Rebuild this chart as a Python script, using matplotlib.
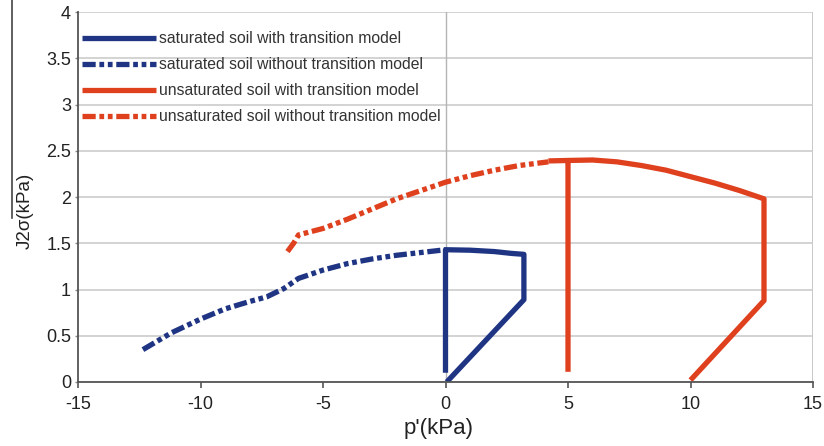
import numpy as np
import matplotlib
matplotlib.use("Agg")
import matplotlib.pyplot as plt
from matplotlib.lines import Line2D

plt.rcParams['font.family'] = ['Liberation Sans', 'DejaVu Sans']

# saturated soil with transition model (solid blue)
sat_tr_x = [0.0, 0.0, 1.0, 2.0, 2.7, 3.2, 3.2, 0.05]
sat_tr_y = [0.10, 1.43, 1.425, 1.41, 1.39, 1.38, 0.89, 0.0]

# saturated soil without transition model (dash-dot blue)
sat_nt_x = [-12.35, -11.2, -10.0, -9.0, -8.0, -7.3, -6.6, -6.0, -5.0, -4.0, -3.0, -2.0, -1.0, 0.0]
sat_nt_y = [0.35, 0.53, 0.68, 0.79, 0.87, 0.92, 1.01, 1.12, 1.21, 1.28, 1.33, 1.37, 1.40, 1.43]

# unsaturated soil with transition model (solid red); NaN separates the vertical branch
unsat_tr_x = [5.0, 5.0, np.nan, 4.2, 5.0, 6.0, 7.0, 8.0, 9.0, 10.0, 11.0, 12.0, 13.0, 13.0, 10.0]
unsat_tr_y = [0.11, 2.39, np.nan, 2.39, 2.395, 2.40, 2.38, 2.34, 2.29, 2.22, 2.15, 2.07, 1.98, 0.88, 0.02]

# unsaturated soil without transition model (dash-dot red)
unsat_nt_x = [-6.45, -6.2, -6.0, -5.0, -4.0, -3.0, -2.0, -1.0, 0.0, 1.0, 2.0, 3.0, 4.2]
unsat_nt_y = [1.41, 1.50, 1.59, 1.66, 1.76, 1.87, 1.98, 2.07, 2.16, 2.23, 2.29, 2.34, 2.38]

labels = ["saturated soil with transition model",
          "saturated soil without transition model",
          "unsaturated soil with transition model",
          "unsaturated soil without transition model"]

x_ticks = [-15, -10, -5, 0, 5, 10, 15]
y_ticks = [0, 0.5, 1, 1.5, 2, 2.5, 3, 3.5, 4]
y_ticklabels = ["0", "0.5", "1", "1.5", "2", "2.5", "3", "3.5", "4"]

blue = '#1f3584'
red = '#df401e'
lw = 3.8
dashdot = (0, (2.5, 0.7, 0.9, 0.7, 0.9, 0.7))

fig = plt.figure(figsize=(8.24, 4.46), dpi=100)
ax = fig.add_axes([78/824, 64/446, 735/824, 370/446])

for yv in y_ticks:
    ax.axhline(yv, color='#c8c8c8', lw=1.1, zorder=0)
ax.axvline(0, color='#b4b4b4', lw=1.0, zorder=0)
ax.axvline(15, color='#c8c8c8', lw=1.4, zorder=0)

ax.plot(sat_tr_x, sat_tr_y, color=blue, lw=lw, solid_capstyle='butt', label=labels[0])
ax.plot(sat_nt_x, sat_nt_y, color=blue, lw=lw, linestyle=dashdot, dash_capstyle='butt', label=labels[1])
ax.plot(unsat_tr_x, unsat_tr_y, color=red, lw=lw, solid_capstyle='butt', label=labels[2])
ax.plot(unsat_nt_x, unsat_nt_y, color=red, lw=lw, linestyle=dashdot, dash_capstyle='butt', label=labels[3])

ax.set_xlim(-15, 15)
ax.set_ylim(0, 4)
ax.set_xticks(x_ticks)
ax.set_xticklabels([str(v) for v in x_ticks])
ax.set_yticks(y_ticks)
ax.set_yticklabels(y_ticklabels)

for s in ['top', 'right']:
    ax.spines[s].set_visible(False)
for s in ['left', 'bottom']:
    ax.spines[s].set_color('#555555')
    ax.spines[s].set_linewidth(1.3)

ax.tick_params(axis='x', direction='out', length=4, width=1.2, color='#555555',
               labelsize=13, pad=6, labelcolor='#222222')
ax.tick_params(axis='y', direction='out', length=2.5, width=1.0, color='#888888',
               labelsize=13, pad=2.5, labelcolor='#222222')

ax.set_xlabel("p'(kPa)", fontsize=16, color='#222222')
ax.xaxis.set_label_coords(0.491, -0.097)
ax.set_ylabel("J2σ(kPa)", fontsize=13.5, color='#222222')
ax.yaxis.set_label_coords(-0.0600, 0.462)

leg = ax.legend(loc='upper left', bbox_to_anchor=(-0.0095, 0.977), frameon=False,
                fontsize=11.3, handlelength=4.7, handletextpad=0.2,
                labelspacing=0.7, borderaxespad=0.3)
for t in leg.get_texts():
    t.set_color('#333333')

# stray vertical line at left margin of the reference image
fig.add_artist(Line2D([12/824, 12/824], [1.0, 1 - 218/446], transform=fig.transFigure,
                      color='#444444', lw=1.2))

fig.savefig("out.png", dpi=100)
